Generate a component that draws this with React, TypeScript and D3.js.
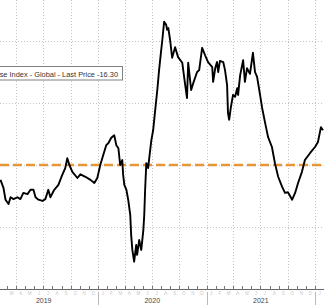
import React from "react";
import * as d3 from "d3";

const dates: string[] = [
  "2019-02-07","2019-02-17","2019-02-24","2019-03-06","2019-03-13","2019-03-23","2019-04-05","2019-04-15","2019-04-25","2019-05-09",
  "2019-05-19","2019-05-29","2019-06-05","2019-06-15","2019-06-28","2019-07-08","2019-07-18","2019-07-25","2019-08-07","2019-08-21",
  "2019-09-03","2019-09-13","2019-09-20","2019-09-27","2019-10-07","2019-10-24","2019-11-03","2019-11-20","2019-12-07","2019-12-20",
  "2019-12-30","2020-01-09","2020-01-19","2020-01-29","2020-02-05","2020-02-15","2020-02-25","2020-03-03","2020-03-10","2020-03-16",
  "2020-03-23","2020-03-26","2020-03-30","2020-04-06","2020-04-12","2020-04-19","2020-04-22","2020-04-26","2020-05-02","2020-05-09",
  "2020-05-12","2020-05-19","2020-05-26","2020-06-02","2020-06-05","2020-06-08","2020-06-12","2020-06-15","2020-06-18","2020-06-25",
  "2020-06-29","2020-07-05","2020-07-12","2020-07-19","2020-07-25","2020-08-01","2020-08-05","2020-08-11","2020-08-18","2020-08-21",
  "2020-08-25","2020-08-31","2020-09-07","2020-09-17","2020-09-27","2020-10-11","2020-10-21","2020-10-27","2020-10-31","2020-11-10",
  "2020-11-17","2020-11-30","2020-12-07","2020-12-17","2020-12-27","2021-01-06","2021-01-20","2021-01-23","2021-01-30","2021-02-05",
  "2021-02-09","2021-02-15","2021-02-26","2021-03-04","2021-03-11","2021-03-14","2021-03-18","2021-03-24","2021-03-31","2021-04-07",
  "2021-04-14","2021-04-17","2021-04-24","2021-05-04","2021-05-10","2021-05-17","2021-05-27","2021-06-06","2021-06-13","2021-06-20",
  "2021-06-30","2021-07-07","2021-07-17","2021-07-27","2021-08-09","2021-08-19","2021-08-30","2021-09-12","2021-09-22","2021-10-02",
  "2021-10-16","2021-10-26","2021-11-05","2021-11-18","2021-11-28","2021-12-15","2022-01-01","2022-01-11","2022-01-21","2022-01-28",
];

const values: number[] = [
  -24,-37,-56,-63,-52,-55,-52,-55,-45,-47,
  -40,-40,-52,-56,-58,-55,-40,-52,-40,-32,
  -16,-5,11,0,-11,-21,-15,-19,-24,-29,
  -21,0,16,32,35,44,48,32,27,0,
  8,-16,-32,-40,-56,-81,-113,-137,-156,-129,
  -145,-121,-137,-105,-81,-40,3,0,-5,24,
  40,56,89,121,153,185,202,231,226,218,
  221,202,173,190,174,165,129,108,165,121,
  132,150,153,189,177,166,158,134,156,166,
  150,168,166,153,129,84,73,94,113,110,
  124,113,145,169,134,156,147,181,150,142,
  113,92,68,45,29,3,-19,-35,-45,-44,
  -56,-45,-29,-11,8,19,29,37,61,56,
];

const yGrid: number[] = [200, 100, 0, -100];
const yearLabels: string[] = ["2019", "2020", "2021"];
const monthLetters: string[] = ["J","F","M","A","M","J","J","A","S","O","N","D"];
const legendText = "Citi Economic Surprise Index - Global - Last Price -16.30";
const refValue = 0;

const W = 324;
const H = 305;
const axisY = 289;

export default function App() {
  const parse = d3.utcParse("%Y-%m-%d");
  const data = dates.map((d, i) => ({ date: parse(d) as Date, value: values[i] }));

  const x = d3
    .scaleUtc()
    .domain([new Date(Date.UTC(2019, 0, 1)), new Date(Date.UTC(2022, 0, 1))])
    .range([-10.5, 315]);
  const y = d3.scaleLinear().domain([-200, 200]).range([axisY, 41]);

  const line = d3
    .line<{ date: Date; value: number }>()
    .x((d) => x(d.date))
    .y((d) => y(d.value))
    .curve(d3.curveLinear);

  const quarters = d3.utcMonth.every(3)!.range(new Date(Date.UTC(2019, 0, 1)), new Date(Date.UTC(2022, 1, 1)));
  const months = d3.utcMonth.range(new Date(Date.UTC(2019, 0, 1)), new Date(Date.UTC(2022, 2, 1)));
  const years = [2019, 2020, 2021].map((yr) => new Date(Date.UTC(yr, 0, 1)));
  const yearEnds = [2020, 2021, 2022].map((yr) => new Date(Date.UTC(yr, 0, 1)));
  const monthMids = months
    .map((m) => ({ m, cx: (x(m) + x(d3.utcMonth.offset(m, 1))) / 2 }))
    .filter((o) => o.cx > 3 && o.cx < W - 3);

  return (
    <svg
      width={W}
      height={H}
      style={{ position: "absolute", left: 0, top: 0, background: "#fff" }}
      fontFamily="'Liberation Sans', Arial, sans-serif"
    >
      <rect x={0} y={0} width={W} height={H} fill="#fff" />
      {quarters.map((q, i) => (
        <line
          key={"vq" + i}
          x1={Math.round(x(q)) + 0.5}
          x2={Math.round(x(q)) + 0.5}
          y1={0}
          y2={axisY}
          stroke="#c4c4c4"
          strokeDasharray="1,2"
        />
      ))}
      {yGrid.map((v, i) => (
        <line
          key={"hg" + i}
          x1={0}
          x2={W}
          y1={Math.round(y(v)) + 0.5}
          y2={Math.round(y(v)) + 0.5}
          stroke="#c4c4c4"
          strokeDasharray="1,2"
        />
      ))}
      <line
        x1={0}
        x2={W}
        y1={y(refValue)}
        y2={y(refValue)}
        stroke="#e8953a"
        strokeWidth={2.6}
        strokeDasharray="9,4"
      />
      <path d={line(data) || ""} fill="none" stroke="#000" strokeWidth={1.9} strokeLinejoin="round" />

      <line x1={0} x2={W} y1={axisY + 0.5} y2={axisY + 0.5} stroke="#666" />
      {months.map((m, i) => (
        <line
          key={"mt" + i}
          x1={Math.round(x(m)) + 0.5}
          x2={Math.round(x(m)) + 0.5}
          y1={axisY - 3}
          y2={axisY + 1}
          stroke="#777"
        />
      ))}
      {monthMids.map((o, i) => (
        <text key={"ml" + i} x={o.cx} y={295} fontSize={4.5} fill="#c8c8c8" textAnchor="middle">
          {monthLetters[o.m.getUTCMonth()]}
        </text>
      ))}
      {yearEnds.map((d, i) => (
        <line
          key={"ys" + i}
          x1={Math.round(x(d)) + 0.5}
          x2={Math.round(x(d)) + 0.5}
          y1={292}
          y2={H}
          stroke="#bbb"
        />
      ))}
      {years.map((d, i) => (
        <text
          key={"yl" + i}
          x={(x(d) + x(yearEnds[i])) / 2}
          y={303}
          fontSize={7}
          fill="#444"
          textAnchor="middle"
        >
          {yearLabels[i]}
        </text>
      ))}

      <rect x={-5} y={66.5} width={127.5} height={13.5} fill="#fff" stroke="#808080" />
      <text x={118} y={76.5} fontSize={7.4} fill="#333" textAnchor="end">
        {legendText}
      </text>
    </svg>
  );
}
